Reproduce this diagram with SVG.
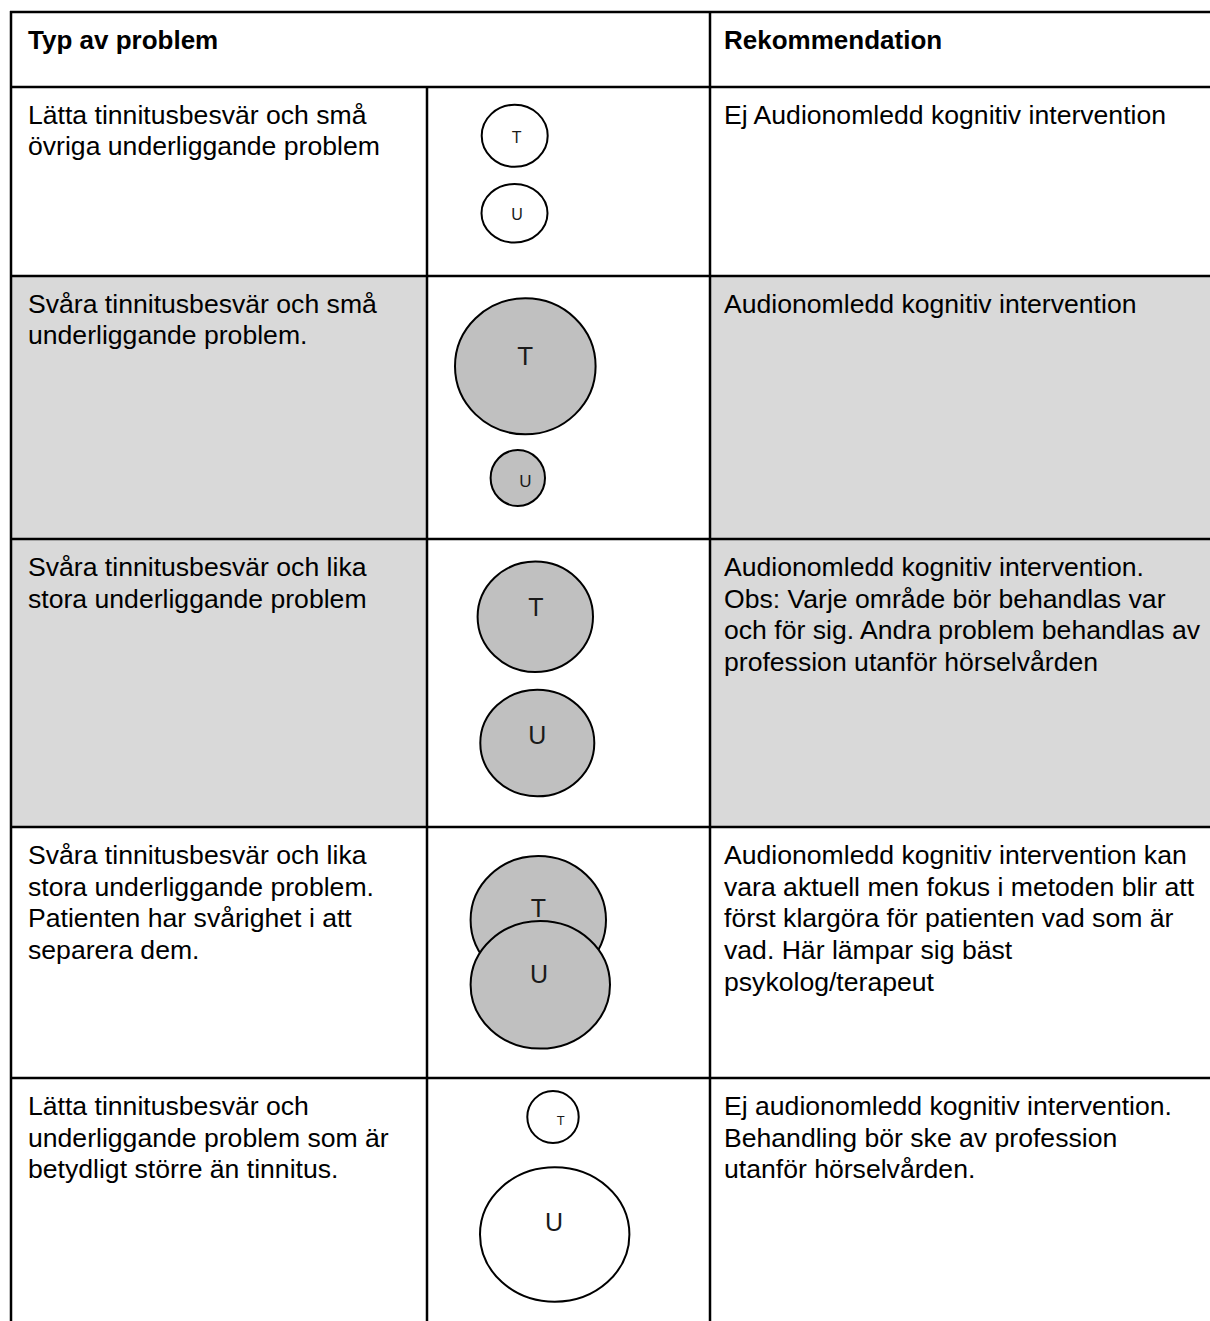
<svg xmlns="http://www.w3.org/2000/svg" width="1210" height="1321" viewBox="0 0 1210 1321">
<style>
.t{font-family:"Liberation Sans",Arial,sans-serif;font-size:26.6px;fill:#000}
.h{font-weight:bold;font-size:26px}
.c{font-family:"Liberation Sans",Arial,sans-serif;fill:#1a1a1a;text-anchor:middle}
.g{fill:#d9d9d9}
.cw{fill:#fff;stroke:#000;stroke-width:2}
.cg{fill:#c0c0c0;stroke:#000;stroke-width:2}
.ln{stroke:#000;stroke-width:2.5;fill:none}
</style>
<rect width="1210" height="1321" fill="#fff"/>
<g id="backgrounds">
<rect class="g" x="11" y="276" width="416" height="551"/>
<rect class="g" x="710" y="276" width="500" height="551"/>
</g>
<g id="grid">
<path class="ln" d="M10 12H1210M10 87H1210M10 276H1210M10 539H1210M10 827H1210M10 1078H1210M11 11V1321M710 11V1321M427 87V1321"/>
</g>
<g id="header">
<text class="t h" x="28" y="49">Typ av problem</text>
<text class="t h" x="724" y="49">Rekommendation</text>
</g>
<g id="row1">
<text class="t"><tspan x="28" y="123.5">Lätta tinnitusbesvär och små</tspan><tspan x="28" y="155.1">övriga underliggande problem</tspan></text>
<g id="row1-diagram">
<ellipse class="cw" cx="514.7" cy="135.8" rx="33" ry="31"/>
<text class="c" x="516.7" y="143.3" font-size="16">T</text>
<ellipse class="cw" cx="514.5" cy="213.3" rx="33" ry="29.3"/>
<text class="c" x="517" y="220" font-size="16">U</text>
</g>
<text class="t" x="724" y="124">Ej Audionomledd kognitiv intervention</text>
</g>
<g id="row2">
<text class="t"><tspan x="28" y="312.5">Svåra tinnitusbesvär och små</tspan><tspan x="28" y="344.1">underliggande problem.</tspan></text>
<g id="row2-diagram">
<ellipse class="cg" cx="525.3" cy="366.3" rx="70.3" ry="68"/>
<text class="c" x="525.3" y="365" font-size="26">T</text>
<ellipse class="cg" cx="517.8" cy="478" rx="27.2" ry="28"/>
<text class="c" x="525.3" y="486.7" font-size="17">U</text>
</g>
<text class="t" x="724" y="312.5">Audionomledd kognitiv intervention</text>
</g>
<g id="row3">
<text class="t"><tspan x="28" y="576">Svåra tinnitusbesvär och lika</tspan><tspan x="28" y="607.6">stora underliggande problem</tspan></text>
<g id="row3-diagram">
<ellipse class="cg" cx="535.3" cy="616.8" rx="57.7" ry="55.2"/>
<text class="c" x="536" y="615.7" font-size="25">T</text>
<ellipse class="cg" cx="537.3" cy="743" rx="57" ry="53.3"/>
<text class="c" x="537.3" y="744" font-size="25">U</text>
</g>
<text class="t"><tspan x="724" y="576">Audionomledd kognitiv intervention.</tspan><tspan x="724" y="607.6">Obs: Varje område bör behandlas var</tspan><tspan x="724" y="639.2">och för sig. Andra problem behandlas av</tspan><tspan x="724" y="670.8">profession utanför hörselvården</tspan></text>
</g>
<g id="row4">
<text class="t"><tspan x="28" y="864.2">Svåra tinnitusbesvär och lika</tspan><tspan x="28" y="895.8">stora underliggande problem.</tspan><tspan x="28" y="927.4">Patienten har svårighet i att</tspan><tspan x="28" y="959">separera dem.</tspan></text>
<g id="row4-diagram">
<ellipse class="cg" cx="538.3" cy="920" rx="67.7" ry="64"/>
<text class="c" x="538.3" y="917.3" font-size="25">T</text>
<ellipse class="cg" cx="540.3" cy="984.8" rx="69.7" ry="63.8"/>
<text class="c" x="539" y="983.3" font-size="25">U</text>
</g>
<text class="t"><tspan x="724" y="864.2">Audionomledd kognitiv intervention kan</tspan><tspan x="724" y="895.8">vara aktuell men fokus i metoden blir att</tspan><tspan x="724" y="927.4">först klargöra för patienten vad som är</tspan><tspan x="724" y="959">vad. Här lämpar sig bäst</tspan><tspan x="724" y="990.6">psykolog/terapeut</tspan></text>
</g>
<g id="row5">
<text class="t"><tspan x="28" y="1115">Lätta tinnitusbesvär och</tspan><tspan x="28" y="1146.6">underliggande problem som är</tspan><tspan x="28" y="1178.2">betydligt större än tinnitus.</tspan></text>
<g id="row5-diagram">
<ellipse class="cw" cx="553" cy="1117" rx="25.7" ry="26"/>
<text class="c" x="560.7" y="1125" font-size="13">T</text>
<ellipse class="cw" cx="554.7" cy="1234.5" rx="74.7" ry="67.2"/>
<text class="c" x="554" y="1231" font-size="25">U</text>
</g>
<text class="t"><tspan x="724" y="1115">Ej audionomledd kognitiv intervention.</tspan><tspan x="724" y="1146.6">Behandling bör ske av profession</tspan><tspan x="724" y="1178.2">utanför hörselvården.</tspan></text>
</g>
</svg>
